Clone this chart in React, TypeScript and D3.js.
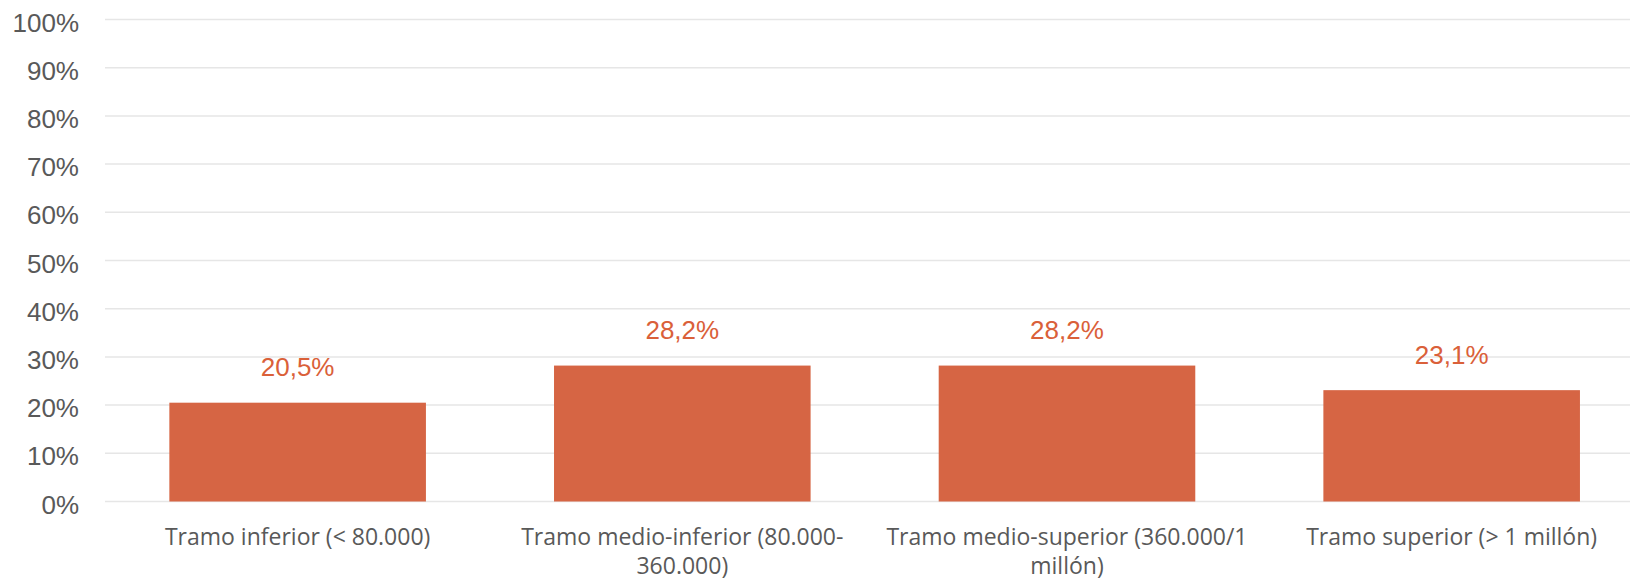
import React, { useMemo } from "react";
import * as d3 from "d3";

const categories = [
  "Tramo inferior (< 80.000)",
  "Tramo medio-inferior (80.000-360.000)",
  "Tramo medio-superior (360.000/1 millón)",
  "Tramo superior (> 1 millón)",
];
const values = [20.5, 28.2, 28.2, 23.1];
const valueLabels = ["20,5%", "28,2%", "28,2%", "23,1%"];
const yTicks = [0, 10, 20, 30, 40, 50, 60, 70, 80, 90, 100];

const W = 1630;
const H = 580;
const CAT_SIZE = 23;
const CAT_FONT = `${CAT_SIZE}px 'Open Sans'`;

function wrap(text: string, maxWidth: number, font: string): string[] {
  const canvas = document.createElement("canvas");
  const ctx = canvas.getContext("2d")!;
  ctx.font = font;
  const tokens = text.split(/(?<=[\s-])/);
  const lines: string[] = [];
  let cur = "";
  for (const t of tokens) {
    const test = cur + t;
    if (cur && ctx.measureText(test.trimEnd()).width > maxWidth) {
      lines.push(cur.trimEnd());
      cur = t;
    } else cur = test;
  }
  if (cur) lines.push(cur.trimEnd());
  return lines;
}

export default function App() {
  const x = d3
    .scaleBand<string>()
    .domain(categories)
    .range([105.3, 1644])
    .paddingInner(0.333)
    .paddingOuter(0.1665);
  const y = d3.scaleLinear().domain([0, 100]).range([501.5, 19.5]);

  const wrapped = useMemo(
    () => categories.map((c) => wrap(c, x.step(), CAT_FONT)),
    []
  );

  return (
    <svg
      width={W}
      height={H}
      style={{ position: "absolute", left: 0, top: 0, background: "#fff" }}
    >
      <g>
        {yTicks.map((t) => (
          <line
            key={t}
            x1={105}
            x2={W}
            y1={y(t)}
            y2={y(t)}
            stroke="#E6E6E6"
            strokeWidth={1.5}
          />
        ))}
        {yTicks.map((t) => (
          <text
            key={"l" + t}
            x={79}
            y={y(t) + 12}
            textAnchor="end"
            fontFamily="'Liberation Sans', Arial, sans-serif"
            fontSize={26}
            fill="#595959"
          >
            {t + "%"}
          </text>
        ))}
      </g>
      <g>
        {categories.map((c, i) => (
          <rect
            key={c}
            x={x(c)}
            y={y(values[i])}
            width={x.bandwidth()}
            height={y(0) - y(values[i])}
            fill="#D66544"
          />
        ))}
        {categories.map((c, i) => (
          <text
            key={"v" + c}
            x={(x(c) as number) + x.bandwidth() / 2}
            y={y(values[i]) - 26.5}
            textAnchor="middle"
            fontFamily="'Liberation Sans', Arial, sans-serif"
            fontSize={26}
            fill="#DA6039"
          >
            {valueLabels[i]}
          </text>
        ))}
        {categories.map((c, i) => (
          <text
            key={"c" + c}
            textAnchor="middle"
            fontFamily="'Open Sans', sans-serif"
            fontSize={CAT_SIZE}
            fill="#595959"
          >
            {wrapped[i].map((line, j) => (
              <tspan
                key={j}
                x={(x(c) as number) + x.bandwidth() / 2}
                y={545 + j * 29}
              >
                {line}
              </tspan>
            ))}
          </text>
        ))}
      </g>
    </svg>
  );
}
